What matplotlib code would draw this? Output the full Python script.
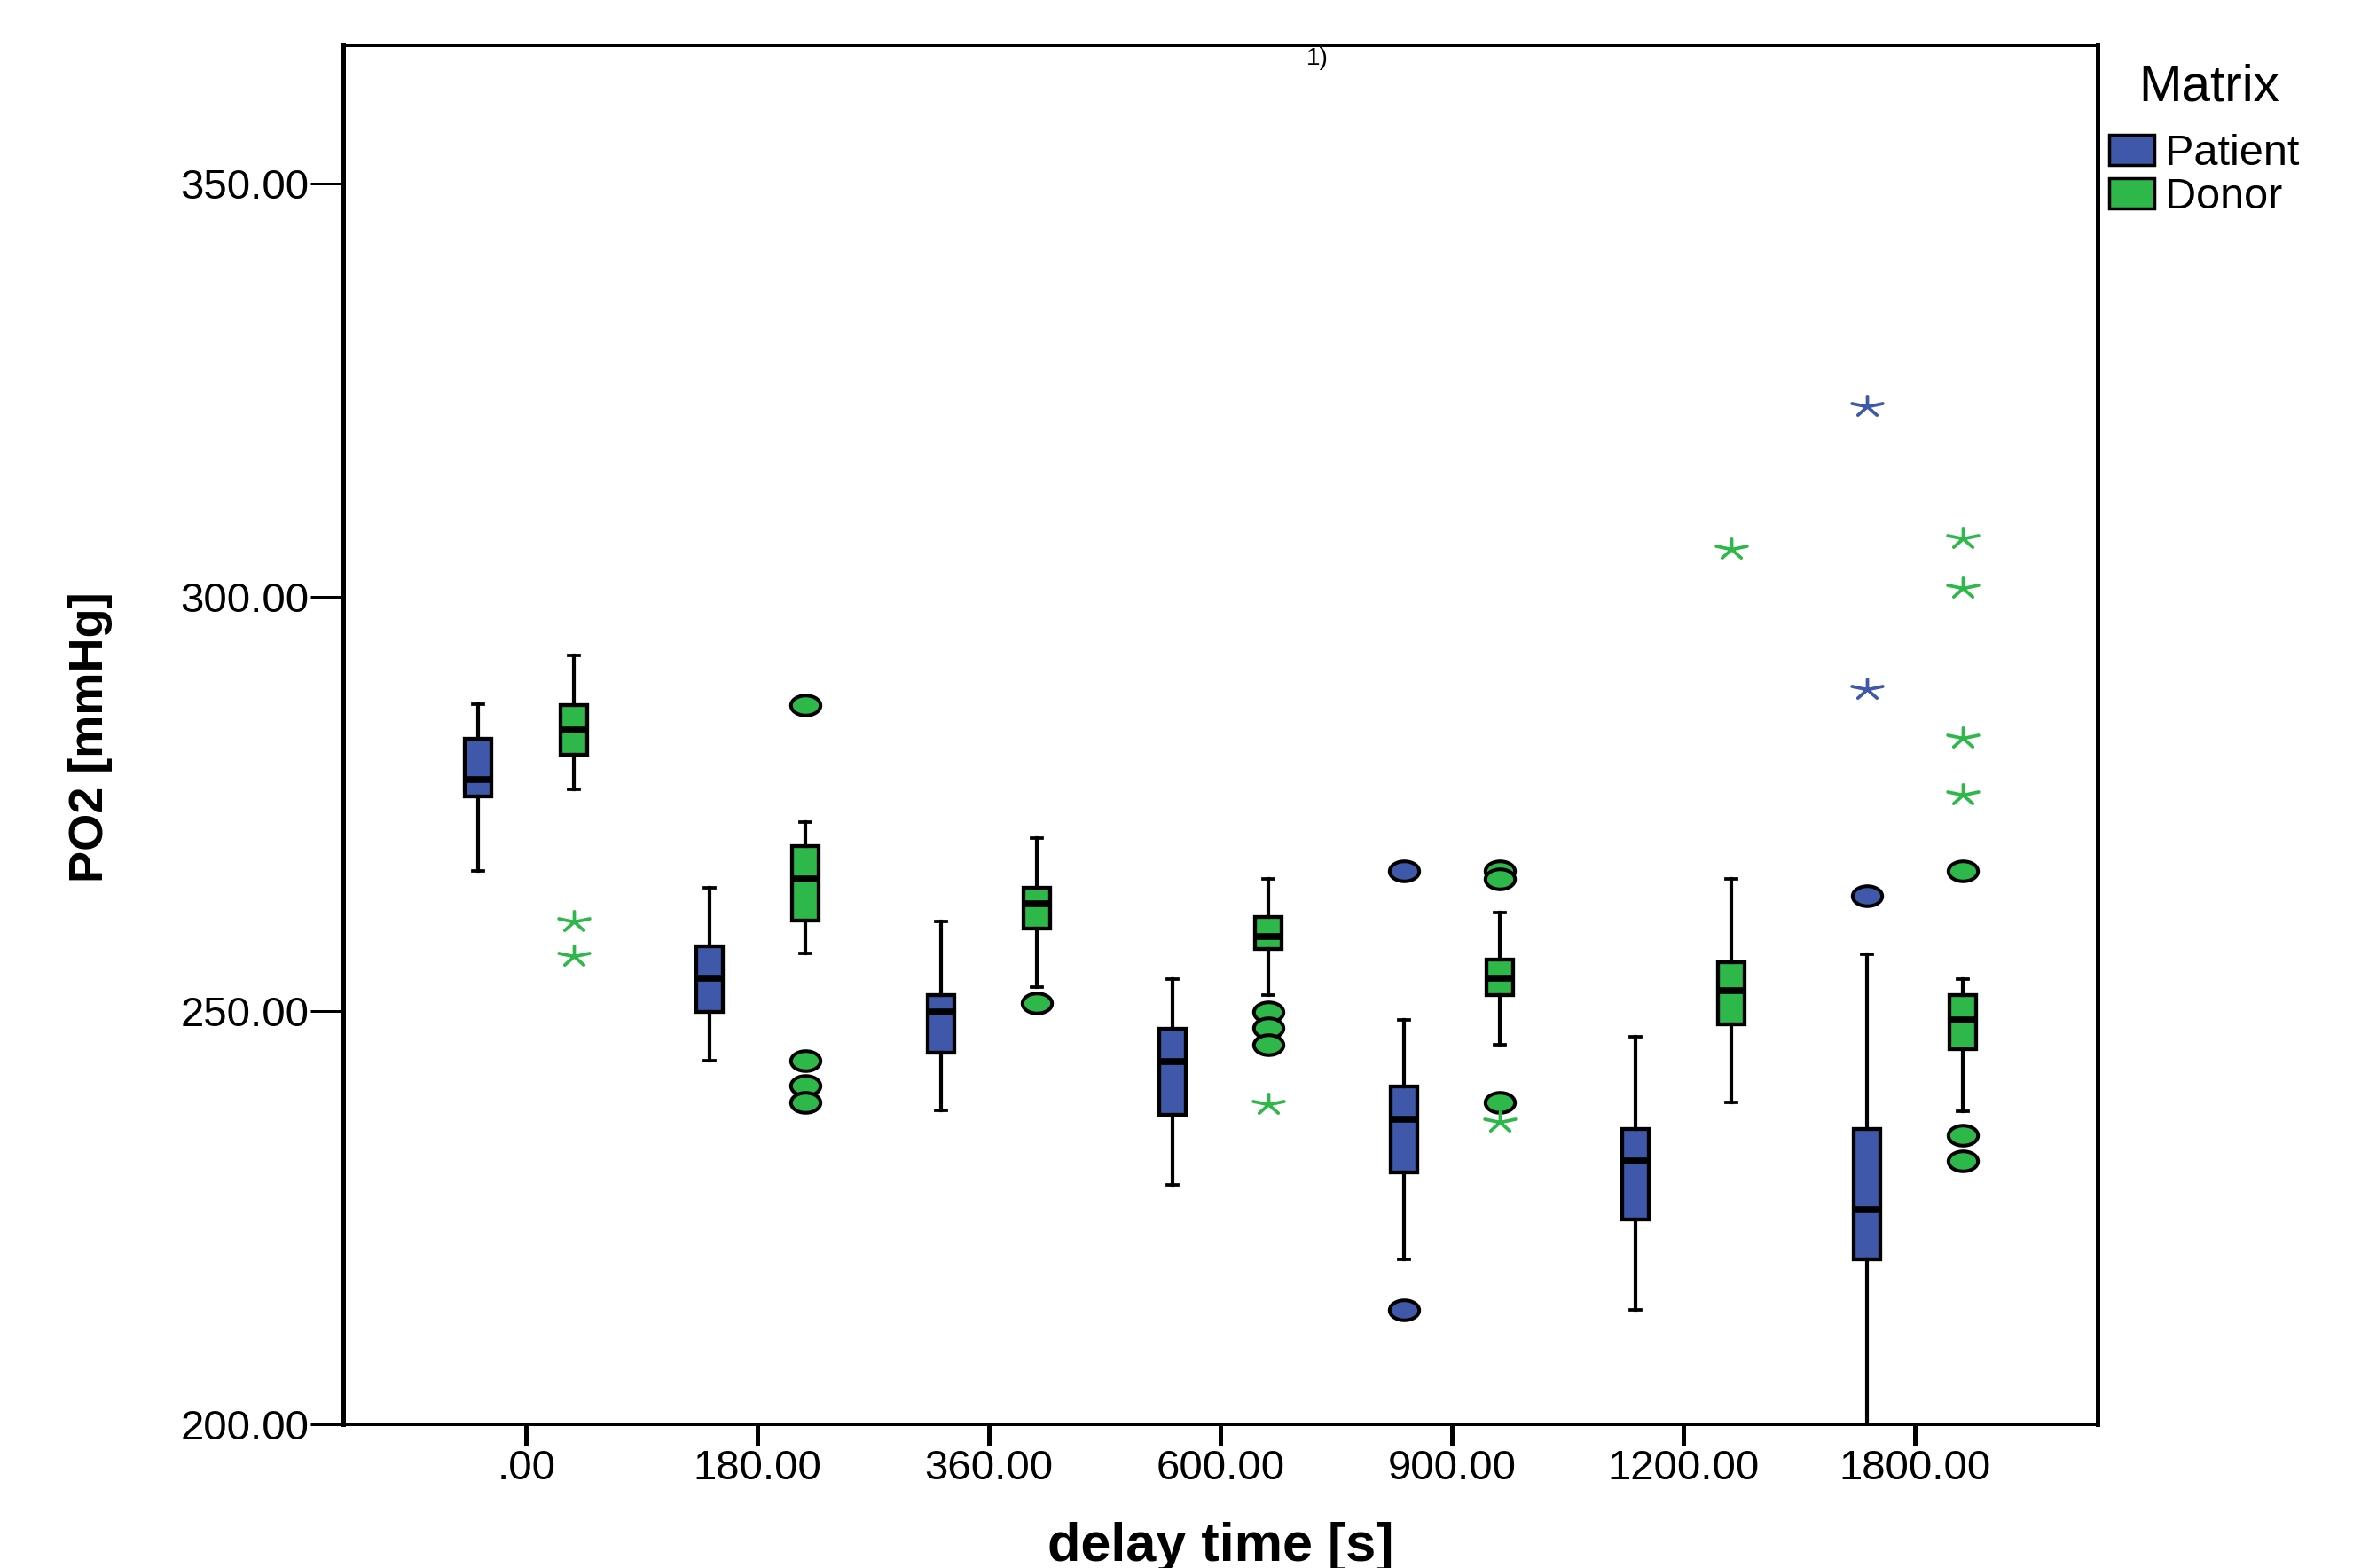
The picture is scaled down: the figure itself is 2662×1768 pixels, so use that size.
import numpy as np
import matplotlib
matplotlib.use("Agg")
import matplotlib.pyplot as plt
from matplotlib.patches import Patch
from matplotlib.path import Path
from matplotlib.markers import MarkerStyle

plt.rcParams['font.family'] = ['Liberation Sans', 'DejaVu Sans']

# ---------------- data ----------------
categories = ['.00', '180.00', '360.00', '600.00', '900.00', '1200.00', '1800.00']

patient_whishi = [287.0, 264.9, 260.8, 253.8, 248.9, 246.8, 256.8]
patient_q3     = [282.9, 257.8, 251.9, 247.8, 240.8, 235.7, 235.7]
patient_med    = [277.9, 253.9, 249.9, 243.8, 236.9, 231.8, 225.9]
patient_q1     = [275.9, 249.9, 244.9, 237.4, 230.4, 224.8, 219.9]
patient_whislo = [266.9, 244.0, 237.9, 228.9, 219.9, 213.8, 199.0]
patient_outliers = [[], [], [], [], [266.9, 213.8], [], [263.9]]
patient_extremes = [[], [], [], [], [], [], [323.2, 289.0]]

donor_whishi = [292.9, 272.8, 270.9, 265.9, 261.9, 265.9, 253.8]
donor_q3     = [286.9, 269.9, 264.9, 261.3, 256.2, 255.8, 251.9]
donor_med    = [283.9, 265.9, 262.9, 259.0, 253.9, 252.4, 248.9]
donor_q1     = [280.9, 260.9, 259.9, 257.5, 251.9, 248.4, 245.3]
donor_whislo = [276.8, 256.9, 252.9, 251.9, 245.9, 238.9, 237.8]
donor_outliers = [[], [286.9, 243.9, 240.9, 238.9], [250.9], [249.9, 247.9, 245.9],
                  [266.9, 265.9, 238.9], [], [266.9, 234.9, 231.8]]
donor_extremes = [[260.9, 256.7], [], [], [238.8], [236.7], [305.9],
                  [307.2, 301.2, 283.1, 276.2]]

series_names = ['Patient', 'Donor']
legend_title = 'Matrix'
ytick_values = [200, 250, 300, 350]

# ---------------- style ----------------
BLUE = '#3f58a9'
GREEN = '#2eb84a'
W, H = 2662, 1768
DPI = 100
PX = 72.0 / DPI  # points per pixel

fig = plt.figure(figsize=(W / DPI, H / DPI), dpi=DPI)
ax_l, ax_r, ax_t, ax_b = 387, 2365, 51, 1606
ax = fig.add_axes([ax_l / W, 1 - ax_b / H, (ax_r - ax_l) / W, (ax_b - ax_t) / H])

# custom markers (stretched ellipse and 5-arm asterisk)
th = np.linspace(0, 2 * np.pi, 61)
ell = np.column_stack([0.5 * np.cos(th), 0.5 * (25 / 37) * np.sin(th)])
ellipse_marker = Path(ell, closed=True)

angles = np.deg2rad([90, 162, 234, 306, 18])
verts, codes = [], []
for a in angles:
    verts += [(0, 0), (1.55 * np.cos(a), np.sin(a))]
    codes += [Path.MOVETO, Path.LINETO]
verts = np.array(verts, dtype=float)
verts[:, 1] -= (1.0 + np.sin(np.deg2rad(234))) / 2.0
star_marker = MarkerStyle(Path(verts, codes), fillstyle='none', capstyle='round')

offset = 0.207
box_w = 0.115
cap_w = 0.046

groups = [
    (patient_whislo, patient_q1, patient_med, patient_q3, patient_whishi,
     patient_outliers, patient_extremes, BLUE, -offset),
    (donor_whislo, donor_q1, donor_med, donor_q3, donor_whishi,
     donor_outliers, donor_extremes, GREEN, offset),
]

xs = np.arange(len(categories))
for (wlo, q1, med, q3, whi, outl, extr, col, off) in groups:
    stats = []
    for i in range(len(categories)):
        stats.append(dict(whislo=wlo[i], q1=q1[i], med=med[i], q3=q3[i],
                          whishi=whi[i], fliers=[]))
    pos = xs + off
    ax.bxp(stats, positions=pos, widths=box_w, capwidths=cap_w,
           patch_artist=True, showfliers=False, manage_ticks=False,
           boxprops=dict(facecolor=col, edgecolor='black', linewidth=3.1),
           medianprops=dict(color='black', linewidth=5.5, solid_capstyle='butt'),
           whiskerprops=dict(color='black', linewidth=3.0),
           capprops=dict(color='black', linewidth=2.7))
    for i in range(len(categories)):
        if outl[i]:
            ax.plot([pos[i]] * len(outl[i]), outl[i], linestyle='none',
                    marker=ellipse_marker, markersize=24, markerfacecolor=col,
                    markeredgecolor='black', markeredgewidth=2.9, zorder=4)
        if extr[i]:
            ax.plot([pos[i]] * len(extr[i]), extr[i], linestyle='none',
                    marker=star_marker, markersize=25, markeredgecolor=col,
                    markeredgewidth=2.7, zorder=4)

ax.set_xlim(-0.79, len(categories) - 1 + 0.79)
ax.set_ylim(200, 366.7)
ax.set_xticks(xs)
ax.set_xticklabels(categories)
ax.set_yticks(ytick_values)
ax.set_yticklabels(['%.2f' % v for v in ytick_values])

ax.tick_params(axis='y', direction='out', length=37 * PX, width=3 * PX, pad=1,
               labelsize=34, color='black')
ax.tick_params(axis='x', direction='out', length=24 * PX, width=5 * PX, pad=3,
               labelsize=34, color='black')

ax.spines['left'].set_linewidth(5 * PX)
ax.spines['right'].set_linewidth(5 * PX)
ax.spines['bottom'].set_linewidth(4 * PX)
ax.spines['top'].set_linewidth(3 * PX)
for s in ax.spines.values():
    s.set_color('black')

# footnote marker at top
ax.text((1485 - ax_l) / (ax_r - ax_l), 0.999, '1)', transform=ax.transAxes,
        ha='center', va='top', fontsize=20)

# axis titles
fig.text(1376 / W, 1 - 1760 / H, 'delay time [s]', ha='center', va='baseline',
         fontsize=44, fontweight='bold')
fig.text(102 / W, 1 - 831 / H, 'PO2 [mmHg]', ha='center', va='center',
         rotation=90, fontsize=39, fontweight='bold')

# legend (title drawn as text, entries as legend)
fig.text(2491 / W, 1 - 99 / H, legend_title, ha='center', va='center', fontsize=42)
handles = [Patch(facecolor=BLUE, edgecolor='black', linewidth=2.5, label=series_names[0]),
           Patch(facecolor=GREEN, edgecolor='black', linewidth=2.5, label=series_names[1])]
leg = fig.legend(handles=handles, loc='upper left',
                 bbox_to_anchor=(2378 / W, 1 - 151 / H), frameon=False,
                 fontsize=35, borderpad=0, borderaxespad=0,
                 handlelength=1.05, handleheight=0.72, handletextpad=0.25,
                 labelspacing=0.08)

fig.savefig('out.png', dpi=DPI)
